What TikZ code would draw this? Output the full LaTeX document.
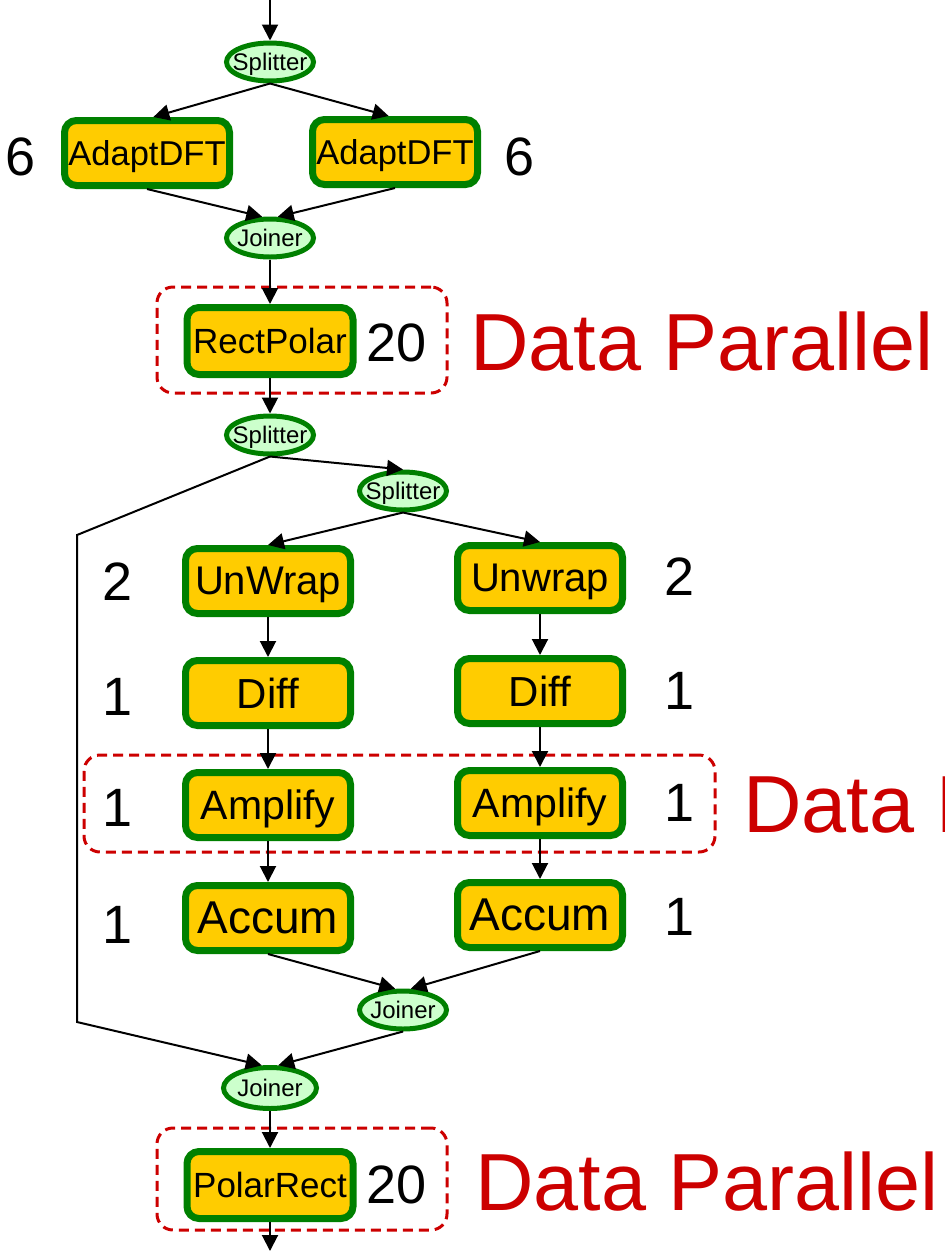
\documentclass[tikz,border=0pt]{standalone}
\usepackage{fontspec}
\setmainfont{Liberation Sans}
\usetikzlibrary{arrows.meta,shapes.geometric}
\definecolor{boxfill}{HTML}{FFCC00}
\definecolor{boxline}{HTML}{008000}
\definecolor{ovfill}{HTML}{CCFFCC}
\definecolor{dpred}{HTML}{CC0000}
\newcommand\fsz[1]{\fontsize{#1}{#1}\selectfont}
\begin{document}
\begin{tikzpicture}[x=1pt,y=-1pt,
 filt/.style={draw=boxline, fill=boxfill, line width=7pt, rounded corners=12pt, inner sep=0pt, minimum width=165pt, minimum height=65pt, text depth=0pt},
 sj/.style={ellipse, draw=boxline, fill=ovfill, line width=5pt, inner sep=0pt, minimum width=87pt, minimum height=38pt, font=\fsz{24}, text depth=0pt},
 num/.style={inner sep=0pt, font=\fsz{54}},
 dbox/.style={draw=dpred, dash pattern=on 10pt off 6pt, line width=3pt, rounded corners=16pt, inner sep=0pt},
 dp/.style={text=dpred, inner sep=0pt, font=\fsz{81}, anchor=base west},
 flow/.style={line width=2pt, -{Triangle[length=16pt,width=16pt]}},
 plainline/.style={line width=2pt}]
\useasboundingbox (0,0) rectangle (945,1251);
\clip (0,0) rectangle (945,1251);
% dashed groups
\node[dbox, minimum width=290pt, minimum height=106pt] (d1) at (302,340) {};
\node[dbox, minimum width=631pt, minimum height=97pt] (d2) at (399.5,803.5) {};
\node[dbox, minimum width=290pt, minimum height=102pt] (d3) at (302,1179) {};
% nodes
\coordinate (top) at (270,0);
\node[sj] (s1) at (270,62) {\makebox[0pt]{Splitter}};
\node[filt, font=\fsz{34.5}] (aL) at (147,153) {AdaptDFT};
\node[filt, font=\fsz{34.5}] (aR) at (395,152) {AdaptDFT};
\node[num] (n1) at (21,157) {6};
\node[num] (n2) at (520,157) {6};
\node[sj] (j1) at (270,238) {\makebox[0pt]{Joiner}};
\node[filt, font=\fsz{35}, minimum width=166pt, minimum height=67pt] (rp) at (270,341) {RectPolar};
\node[num] (n3) at (397,343) {20};
\node[dp] (t1) at (470,370) {Data Parallel};
\node[sj] (s2) at (270,435) {\makebox[0pt]{Splitter}};
\node[sj] (s3) at (403,491) {\makebox[0pt]{Splitter}};
\coordinate (c1) at (77,535);
\coordinate (c2) at (77,1022);
\node[filt, font=\fsz{40}] (uL) at (268,581) {UnWrap};
\node[filt, font=\fsz{40}] (uR) at (540,578) {Unwrap};
\node[num] (n4) at (118,582) {2};
\node[num] (n5) at (680,577) {2};
\node[filt, font=\fsz{42}] (dL) at (268,693) {Diff};
\node[filt, font=\fsz{42}] (dR) at (540,691) {Diff};
\node[num] (n6) at (118,697) {1};
\node[num] (n7) at (680,691) {1};
\node[filt, font=\fsz{41}] (mL) at (268,805) {Amplify};
\node[filt, font=\fsz{41}] (mR) at (540,803) {Amplify};
\node[num] (n8) at (118,808) {1};
\node[num] (n9) at (680,803) {1};
\node[dp] (t2) at (743,832) {Data Parallel};
\node[filt, font=\fsz{46}] (cL) at (268,918) {Accum};
\node[filt, font=\fsz{46}] (cR) at (540,915) {Accum};
\node[num] (n10) at (118,925) {1};
\node[num] (n11) at (680,917) {1};
\node[sj] (j2) at (403,1010) {\makebox[0pt]{Joiner}};
\node[sj, minimum width=93pt, minimum height=41pt] (j3) at (270,1088) {\makebox[0pt]{Joiner}};
\node[filt, font=\fsz{35}, minimum width=166pt, minimum height=67pt] (pr) at (270,1185) {PolarRect};
\node[num] (n12) at (397,1185) {20};
\node[dp] (t3) at (475,1210) {Data Parallel};
\coordinate (bot) at (270,1251);
% connectors
\draw[flow] (top) -- (s1.north);
\draw[flow] (s1.south) -- (aL.80);
\draw[flow] (s1.south) -- (aR.100);
\draw[flow] (aL.south) -- (j1.110);
\draw[flow] (aR.south) -- (j1.70);
\draw[flow] (j1.south) -- (rp.north);
\draw[flow] (rp.south) -- (s2.north);
\draw[flow] (s2.south) -- (s3.north);
\draw[flow] (s2.south) -- (c1) -- (c2) -- (j3.110);
\draw[flow] (s3.south) -- (uL.north);
\draw[flow] (s3.south) -- (uR.north);
\draw[flow] (uL.south) -- (dL.north);
\draw[flow] (uR.south) -- (dR.north);
\draw[flow] (dL.south) -- (mL.north);
\draw[flow] (dR.south) -- (mR.north);
\draw[flow] (mL.south) -- (cL.north);
\draw[flow] (mR.south) -- (cR.north);
\draw[flow] (cL.south) -- (j2.110);
\draw[flow] (cR.south) -- (j2.70);
\draw[flow] (j2.south) -- (j3.70);
\draw[flow] (j3.south) -- (pr.north);
\draw[flow] (pr.south) -- (bot);
\end{tikzpicture}
\end{document}
